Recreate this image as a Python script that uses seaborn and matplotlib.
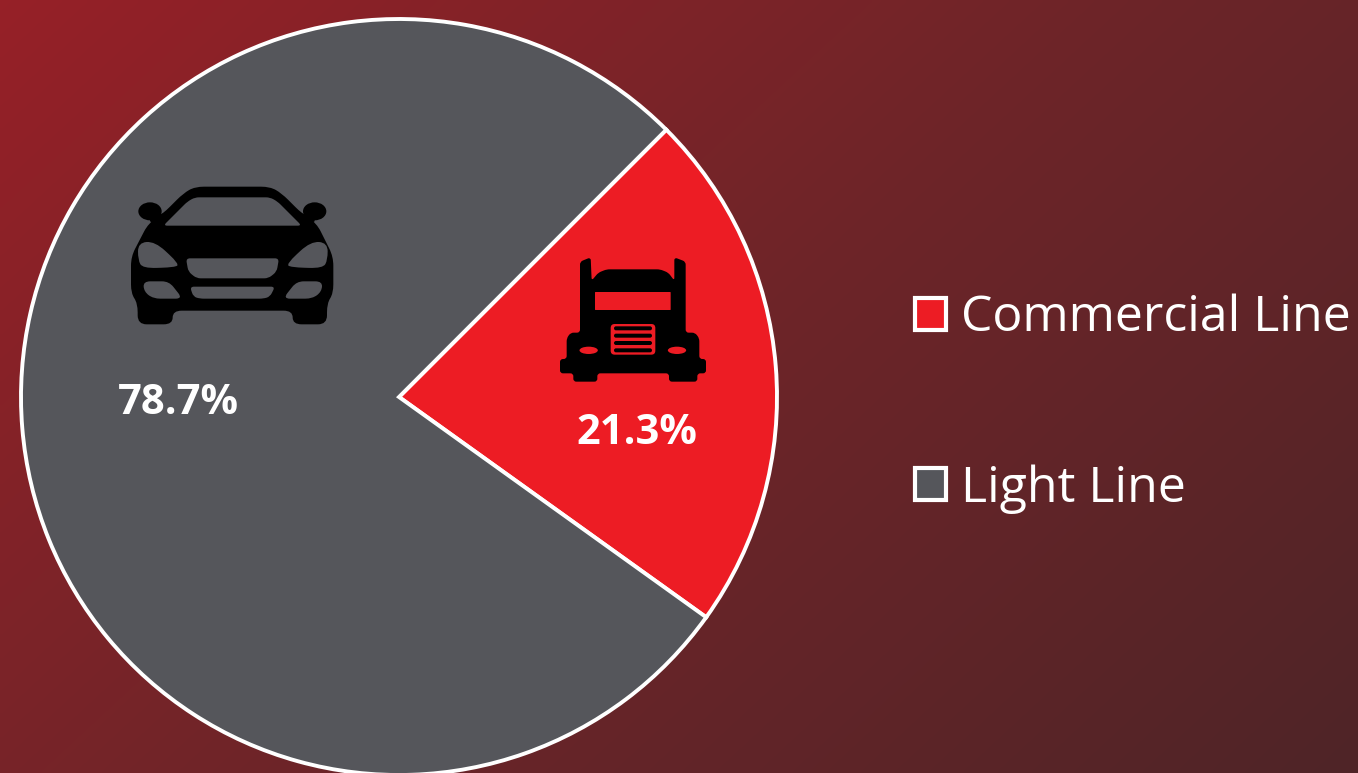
#!/usr/bin/env python3
import numpy as np
import matplotlib.pyplot as plt
import seaborn as sns
from matplotlib.colors import ListedColormap
from matplotlib.patches import Ellipse, PathPatch
from matplotlib.path import Path

plt.switch_backend('Agg')
sns.set_theme(style="white")
plt.rcParams['font.family'] = ['Open Sans', 'DejaVu Sans']

# --- data ---
categories = ['Commercial Line', 'Light Line']
# slice sizes as drawn in the picture (the printed labels differ slightly)
slice_shares = [22.4, 77.6]
value_labels = ['21.3%', '78.7%']
slice_colors = ['#ED1C24', '#55565B']
bg_colors = ['#962027', '#6E2529', '#4F2427']

W, H = 1358, 773


def py(y):
    # picture y (top down) to axes y
    return H - y


def rounded(points, r):
    # closed polygon with rounded corners, points in picture pixels
    pts = [np.array([x, py(y)], dtype=float) for x, y in points]
    verts, codes = [], []
    n = len(pts)
    for i in range(n):
        p, prev, nxt = pts[i], pts[i - 1], pts[(i + 1) % n]
        d1 = prev - p
        d2 = nxt - p
        r1 = min(r, np.linalg.norm(d1) / 2)
        r2 = min(r, np.linalg.norm(d2) / 2)
        a = p + d1 / np.linalg.norm(d1) * r1
        b = p + d2 / np.linalg.norm(d2) * r2
        verts.append(a)
        codes.append(Path.MOVETO if i == 0 else Path.LINETO)
        verts += [p, b]
        codes += [Path.CURVE3, Path.CURVE3]
    verts.append(verts[0])
    codes.append(Path.CLOSEPOLY)
    return Path(verts, codes)


def zoomed(points, x0, y0):
    return [(x0 + x / 3, y0 + y / 3) for x, y in points]


def draw_car(ax, color, cut):
    x0, y0 = 100, 160
    body = [(190, 160), (250, 100), (285, 80), (510, 80), (545, 100), (605, 160),
            (650, 190), (700, 290), (700, 400), (681, 430), (681, 493), (578, 493),
            (578, 452), (218, 452), (218, 493), (113, 493), (113, 430), (93, 400),
            (93, 290), (145, 190)]
    ax.add_patch(PathPatch(rounded(zoomed(body, x0, y0), 9), fc=color, ec='none', zorder=5))
    for cx, tip in ((150, 190), (644, 604)):
        ax.add_patch(Ellipse((x0 + cx / 3, py(y0 + 154 / 3)), 70 / 3, 54 / 3,
                             fc=color, ec='none', zorder=5))
        # mirror stalk joining the roof pillar
        stalk = [(cx, 170), (tip, 160), (tip, 195), (cx, 185)]
        ax.add_patch(PathPatch(rounded(zoomed(stalk, x0, y0), 1), fc=color, ec='none', zorder=5))
    windshield = [(190, 197), (262, 125), (285, 112), (510, 112), (533, 125), (605, 197)]
    grille = [(258, 295), (537, 295), (530, 335), (505, 355), (290, 355), (265, 335)]
    lower = [(270, 380), (525, 380), (510, 410), (490, 416), (300, 416), (280, 410)]
    lamp = [(114, 248), (165, 244), (238, 312), (225, 322), (128, 325), (114, 300)]
    fog = [(130, 364), (207, 364), (248, 416), (160, 416), (132, 395)]
    shapes = [(windshield, 4), (grille, 4), (lower, 4), (lamp, 14), (fog, 7),
              ([(797 - x, y) for x, y in lamp], 14), ([(797 - x, y) for x, y in fog], 7)]
    for s, r in shapes:
        ax.add_patch(PathPatch(rounded(zoomed(s, x0, y0), r), fc=cut, ec='none', zorder=6))


def draw_truck(ax, color, cut):
    x0, y0 = 540, 240
    body = [(120, 65), (152, 52), (155, 122), (175, 98), (200, 88), (360, 88), (385, 98),
            (403, 122), (403, 52), (437, 65), (437, 278), (465, 278), (478, 295), (478, 357),
            (498, 357), (498, 400), (472, 400), (472, 425), (387, 425), (387, 400),
            (172, 400), (172, 425), (100, 425), (100, 400), (60, 400), (60, 357), (80, 357),
            (80, 295), (92, 278), (120, 278)]
    ax.add_patch(PathPatch(rounded(zoomed(body, x0, y0), 3), fc=color, ec='none', zorder=5))
    window = [(165, 156), (392, 156), (392, 210), (165, 210)]
    grille = [(212, 252), (346, 252), (346, 344), (212, 344)]
    ax.add_patch(PathPatch(rounded(zoomed(window, x0, y0), 0.5), fc=cut, ec='none', zorder=6))
    ax.add_patch(PathPatch(rounded(zoomed(grille, x0, y0), 4), fc=cut, ec='none', zorder=6))
    for top in (259, 281, 303, 325):
        slat = [(222, top), (336, top), (336, top + 12), (222, top + 12)]
        ax.add_patch(PathPatch(rounded(zoomed(slat, x0, y0), 2), fc=color, ec='none', zorder=7))
    for cx in (146, 411):
        ax.add_patch(Ellipse((x0 + cx / 3, py(y0 + 331 / 3)), 55 / 3, 22 / 3,
                             fc=cut, ec='none', zorder=6))


fig = plt.figure(figsize=(W / 100, H / 100), dpi=100)
ax = fig.add_axes([0, 0, 1, 1])

# diagonal background gradient
xx, yy = np.meshgrid(np.linspace(0, 1, 340), np.linspace(0, 1, 194))
grad = (xx * 0.62 + yy * 0.38)
cmap = ListedColormap(sns.blend_palette(bg_colors, 256))
ax.imshow(grad, cmap=cmap, extent=(0, W, 0, H), origin='upper', aspect='auto',
          interpolation='bilinear', zorder=0)

wedges, _ = ax.pie(slice_shares, colors=slice_colors, startangle=45, counterclock=False,
                   center=(399, py(397)), radius=378,
                   wedgeprops=dict(edgecolor='white', linewidth=2.8, zorder=2))
for w in wedges:
    w.set_clip_on(False)

ax.set_xlim(0, W)
ax.set_ylim(0, H)
ax.set_aspect('auto')
ax.axis('off')

draw_car(ax, 'black', slice_colors[1])
draw_truck(ax, 'black', slice_colors[0])

ax.text(637, py(433), value_labels[0], color='white', fontsize=30, fontweight='bold',
        ha='center', va='center', zorder=8)
ax.text(178, py(403), value_labels[1], color='white', fontsize=30, fontweight='bold',
        ha='center', va='center', zorder=8)

leg = ax.legend(wedges, categories, loc='upper left', bbox_to_anchor=(915 / W, py(294) / H),
                frameon=False, fontsize=36, handlelength=0.62, handleheight=0.62,
                labelspacing=2.41, handletextpad=0.3, borderpad=0, borderaxespad=0,
                labelcolor='white')
for h in leg.legend_handles:
    h.set_linewidth(3)
    h.set_edgecolor('white')

fig.savefig('out.png', dpi=100)
